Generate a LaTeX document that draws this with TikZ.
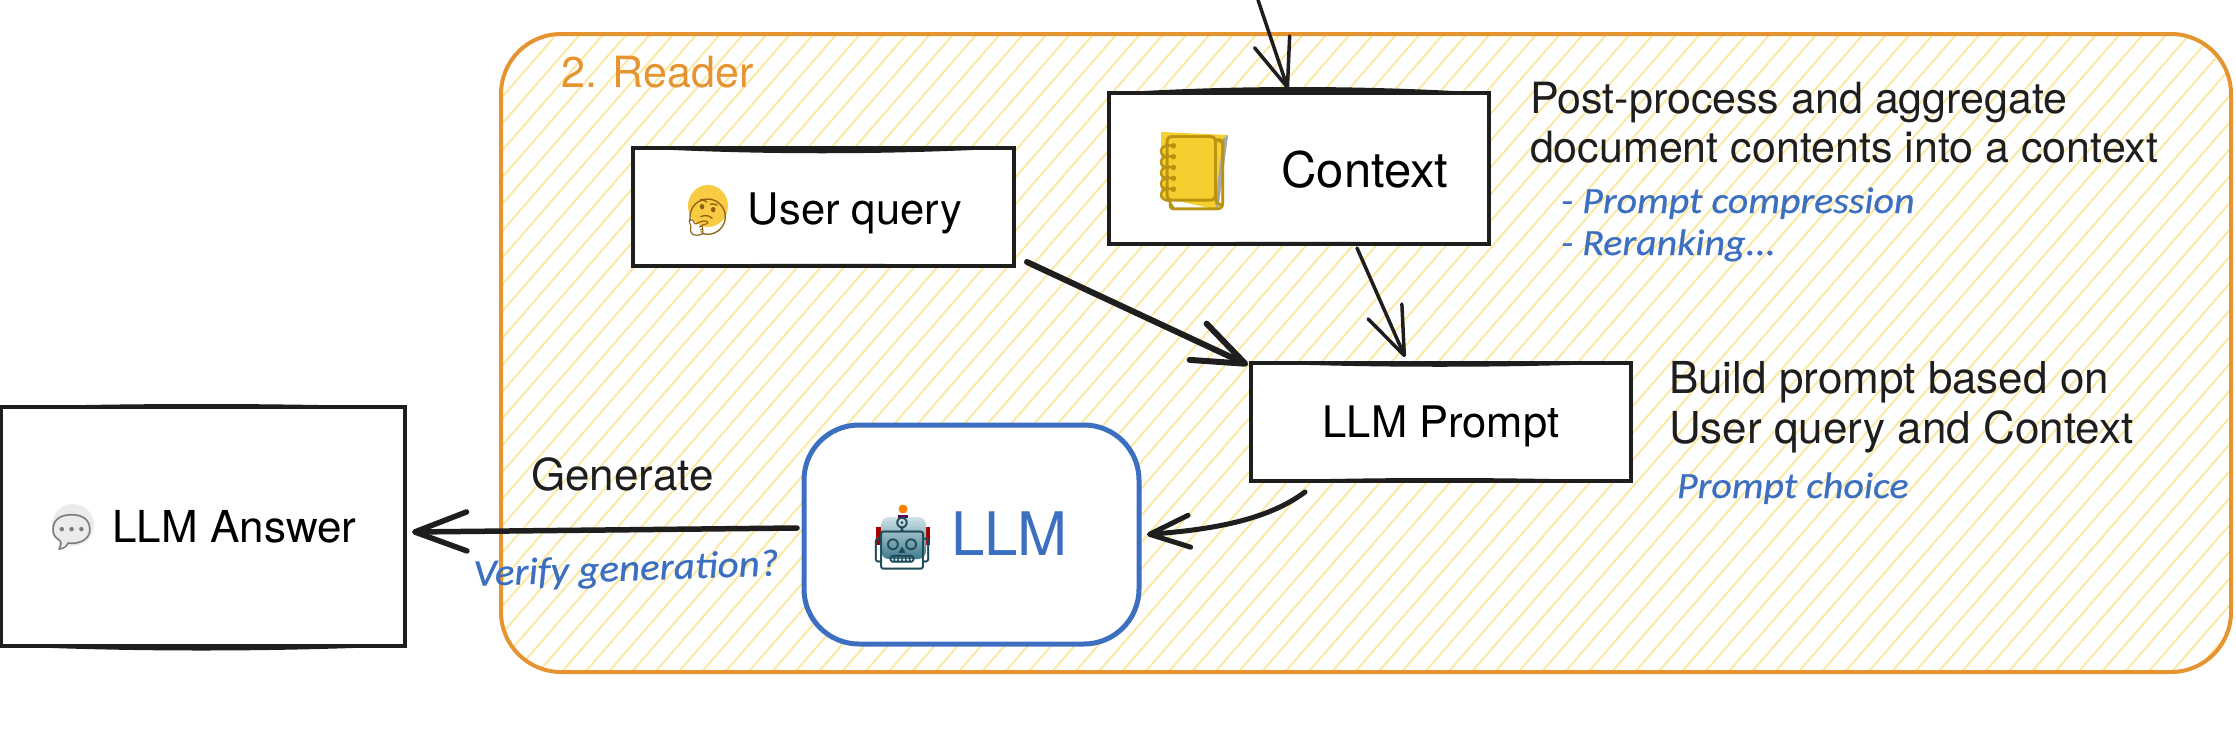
\documentclass[tikz,border=0pt]{standalone}
\usepackage{fontspec}
\setmainfont{TeX Gyre Heros}
\newfontfamily\emojifont{Noto Emoji}
\newfontfamily\handfont[FakeStretch=1.08,FakeBold=0.6]{Carlito}
\usetikzlibrary{arrows.meta,calc}
\definecolor{ink}{HTML}{1E1E1E}
\definecolor{orangeline}{HTML}{E59430}
\definecolor{hatchy}{HTML}{FBE9A3}
\definecolor{blueline}{HTML}{3D6FC1}
\definecolor{facegold}{HTML}{F8CB42}
\definecolor{facetone}{HTML}{8A5E10}
\definecolor{bookgold}{HTML}{F5CF30}
\definecolor{booktone}{HTML}{B8930F}
\definecolor{bubblegray}{HTML}{EBEBEB}
\definecolor{bubbletone}{HTML}{7A7A7A}
\definecolor{robotlight}{HTML}{CDE2E8}
\definecolor{robotdark}{HTML}{3E7A8C}
\definecolor{robottone}{HTML}{1F4A58}
\newcommand{\fs}[1]{\fontsize{#1}{#1}\selectfont}
\newcommand{\emo}[5]{\makebox[#1pt][c]{\raisebox{#2pt}{\color{#3}\emojifont\fontsize{#4}{#4}\selectfont #5}}}
\newcommand{\lens}[3]{\fill[ink] (#1) .. controls ($(#1)!.33!(#2)+(0,#3)$) and ($(#1)!.66!(#2)+(0,#3)$) .. (#2) -- cycle;}
\newcommand{\ppc}{path picture bounding box.center}
\tikzset{
  boxed/.style={draw=ink,fill=white,line width=4pt,inner sep=0pt,outer sep=0pt,align=center,font=\fs{43.5}},
  plain/.style={inner sep=0pt,outer sep=0pt,text=ink,font=\fs{43.5},align=left},
  handnote/.style={inner sep=0pt,outer sep=0pt,text=blueline,font=\handfont\itshape\fs{37},align=left},
  conn/.style={draw=ink,line width=#1,line cap=round,line join=round},
  thin tip/.style={-{Straight Barb[length=48pt,width=37pt,round]}},
  hatchline/.style={draw=hatchy,line width=2pt},
}
\begin{document}
\begin{tikzpicture}[x=1pt,y=-1pt]
\useasboundingbox (0,0) rectangle (2236,750);
% container
\begin{scope}
  \clip[rounded corners=60pt] (501,34) rectangle (2231,672);
  \foreach \k in {-24,...,78}{
    \draw[hatchline] ({2289.6-23.33*\k},0) -- ({2289.6-23.33*\k-652.5},750);
  }
\end{scope}
\node[draw=orangeline,line width=4pt,rounded corners=60pt,minimum width=1730pt,minimum height=638pt,inner sep=0pt,outer sep=0pt] (reader) at (1366,353) {};
\node[anchor=base west,inner sep=0pt,text=orangeline,font=\fs{43}] (readerlabel) at (561,87) {2. Reader};
% boxes
\node[boxed,minimum width=381pt,minimum height=118pt,text height=34pt,text depth=0pt,
  path picture={\fill[facegold] ($(\ppc)+(-115.5,-1)$) ellipse (20pt and 21pt);}]
  (userq) at (823.5,207) {\hspace*{2pt}\emo{41}{-5}{facetone}{36}{🤔}\hspace{20pt}User query};
\node[boxed,minimum width=380pt,minimum height=151pt,text height=37pt,text depth=0pt,font=\fs{49},
  path picture={
    \fill[bookgold] ($(\ppc)+(-138,-36.5)$) -- ($(\ppc)+(-71,-33.5)$) -- ($(\ppc)+(-81,41.5)$) -- ($(\ppc)+(-138,28.5)$) -- cycle;
    \fill[gray!70] ($(\ppc)+(-76,-30)$) -- ($(\ppc)+(-71,-33.5)$) -- ($(\ppc)+(-81,41.5)$) -- ($(\ppc)+(-84,35)$) -- cycle;
  }]
  (context) at (1299,168.5) {\hspace*{6pt}\emo{74}{-11}{booktone}{74}{📒}\hspace{52pt}Context};
\node[boxed,minimum width=380pt,minimum height=118pt,text height=30pt,text depth=0pt] (prompt) at (1441,422) {LLM Prompt};
\node[boxed,minimum width=404pt,minimum height=239pt,text height=31pt,text depth=0pt,font=\fs{44},
  path picture={
    \fill[bubblegray] ($(\ppc)+(-130,-1.5)$) circle (21pt);
    \fill[bubblegray] ($(\ppc)+(-142,10)$) -- ($(\ppc)+(-145,21)$) -- ($(\ppc)+(-130,15)$) -- cycle;
  }]
  (answer) at (203,526.5) {\emo{44}{-5}{bubbletone}{44}{💬}\hspace{19pt}LLM Answer};
\node[draw=blueline,fill=white,line width=5pt,rounded corners=55pt,minimum width=335pt,minimum height=219pt,inner sep=0pt,outer sep=0pt,text=blueline,font=\fs{60},text height=41pt,text depth=0pt,
  path picture={
    \fill[red!65!black,sharp corners] ($(\ppc)+(-95.5,-7.5)$) rectangle ($(\ppc)+(-41.5,10.5)$);
    \shade[top color=robotlight,bottom color=robotdark,rounded corners=8pt] ($(\ppc)+(-90.5,-17.5)$) rectangle ($(\ppc)+(-45.5,24.5)$);
    \fill[violet!70!black,sharp corners] ($(\ppc)+(-73.5,-20)$) rectangle ($(\ppc)+(-63.5,-17)$);
    \fill[orange] ($(\ppc)+(-68.5,-25.5)$) circle (4.5pt);
  }]
  (llm) at (971.5,534.5) {\emo{54}{-6}{robottone}{52}{🤖}\hspace{22pt}LLM};
% sketchy thick strokes
\lens{userq.north west}{userq.north east}{7}
\lens{userq.south west}{userq.south east}{-3}
\lens{context.north west}{context.north east}{-8}
\lens{context.south west}{context.south east}{-3}
\lens{prompt.north west}{prompt.north east}{5}
\lens{prompt.south west}{prompt.south east}{-4}
\lens{answer.north west}{answer.north east}{-4}
\lens{answer.south west}{answer.south east}{6}
% texts
\node[plain,anchor=base west,font=\fs{43}] (postline) at (1530,113) {Post-process and aggregate};
\node[plain,anchor=base west,font=\fs{43}] (postlinetwo) at (1530,162) {document contents into a context};
\node[handnote,anchor=base west] (compress) at (1561,213) {- Prompt compression};
\node[handnote,anchor=base west] (rerank) at (1561,255) {- Reranking...};
\node[plain,anchor=base west,font=\fs{44}] (buildline) at (1669,393) {Build prompt based on};
\node[plain,anchor=base west,font=\fs{44}] (buildlinetwo) at (1669,443) {User query and Context};
\node[handnote,anchor=base west] (choice) at (1677,498) {Prompt choice};
\node[plain,anchor=base west,font=\fs{44}] (generate) at (531,490) {Generate};
\node[handnote,anchor=base west,rotate=2,font=\handfont\itshape\fs{38}] (verify) at (474,586) {Verify generation?};
% connectors
\coordinate (topin) at (1258,0);
\draw[conn=3.5pt,thin tip] (topin) -- ([shift={(-11,-4)}]context.north);
\draw[conn=6pt,-{Straight Barb[length=52pt,width=40pt,round]}] ([shift={(13,-4)}]userq.south east) -- ([shift={(-3,2)}]prompt.north west);
\draw[conn=3.5pt,thin tip] ([shift={(58,4)}]context.south) -- ([shift={(-36,-6)}]prompt.north);
\draw[conn=5pt,-{Straight Barb[length=40pt,width=32pt,round]}] ([shift={(-136,11)}]prompt.south) .. controls (1265,522) and (1205,530) .. ([shift={(8,0)}]llm.east);
\draw[conn=5.5pt,-{Straight Barb[length=52pt,width=39pt,round]}] ([shift={(-7,-6.5)}]llm.west) -- ([shift={(7,5.5)}]answer.east);
\end{tikzpicture}
\end{document}
